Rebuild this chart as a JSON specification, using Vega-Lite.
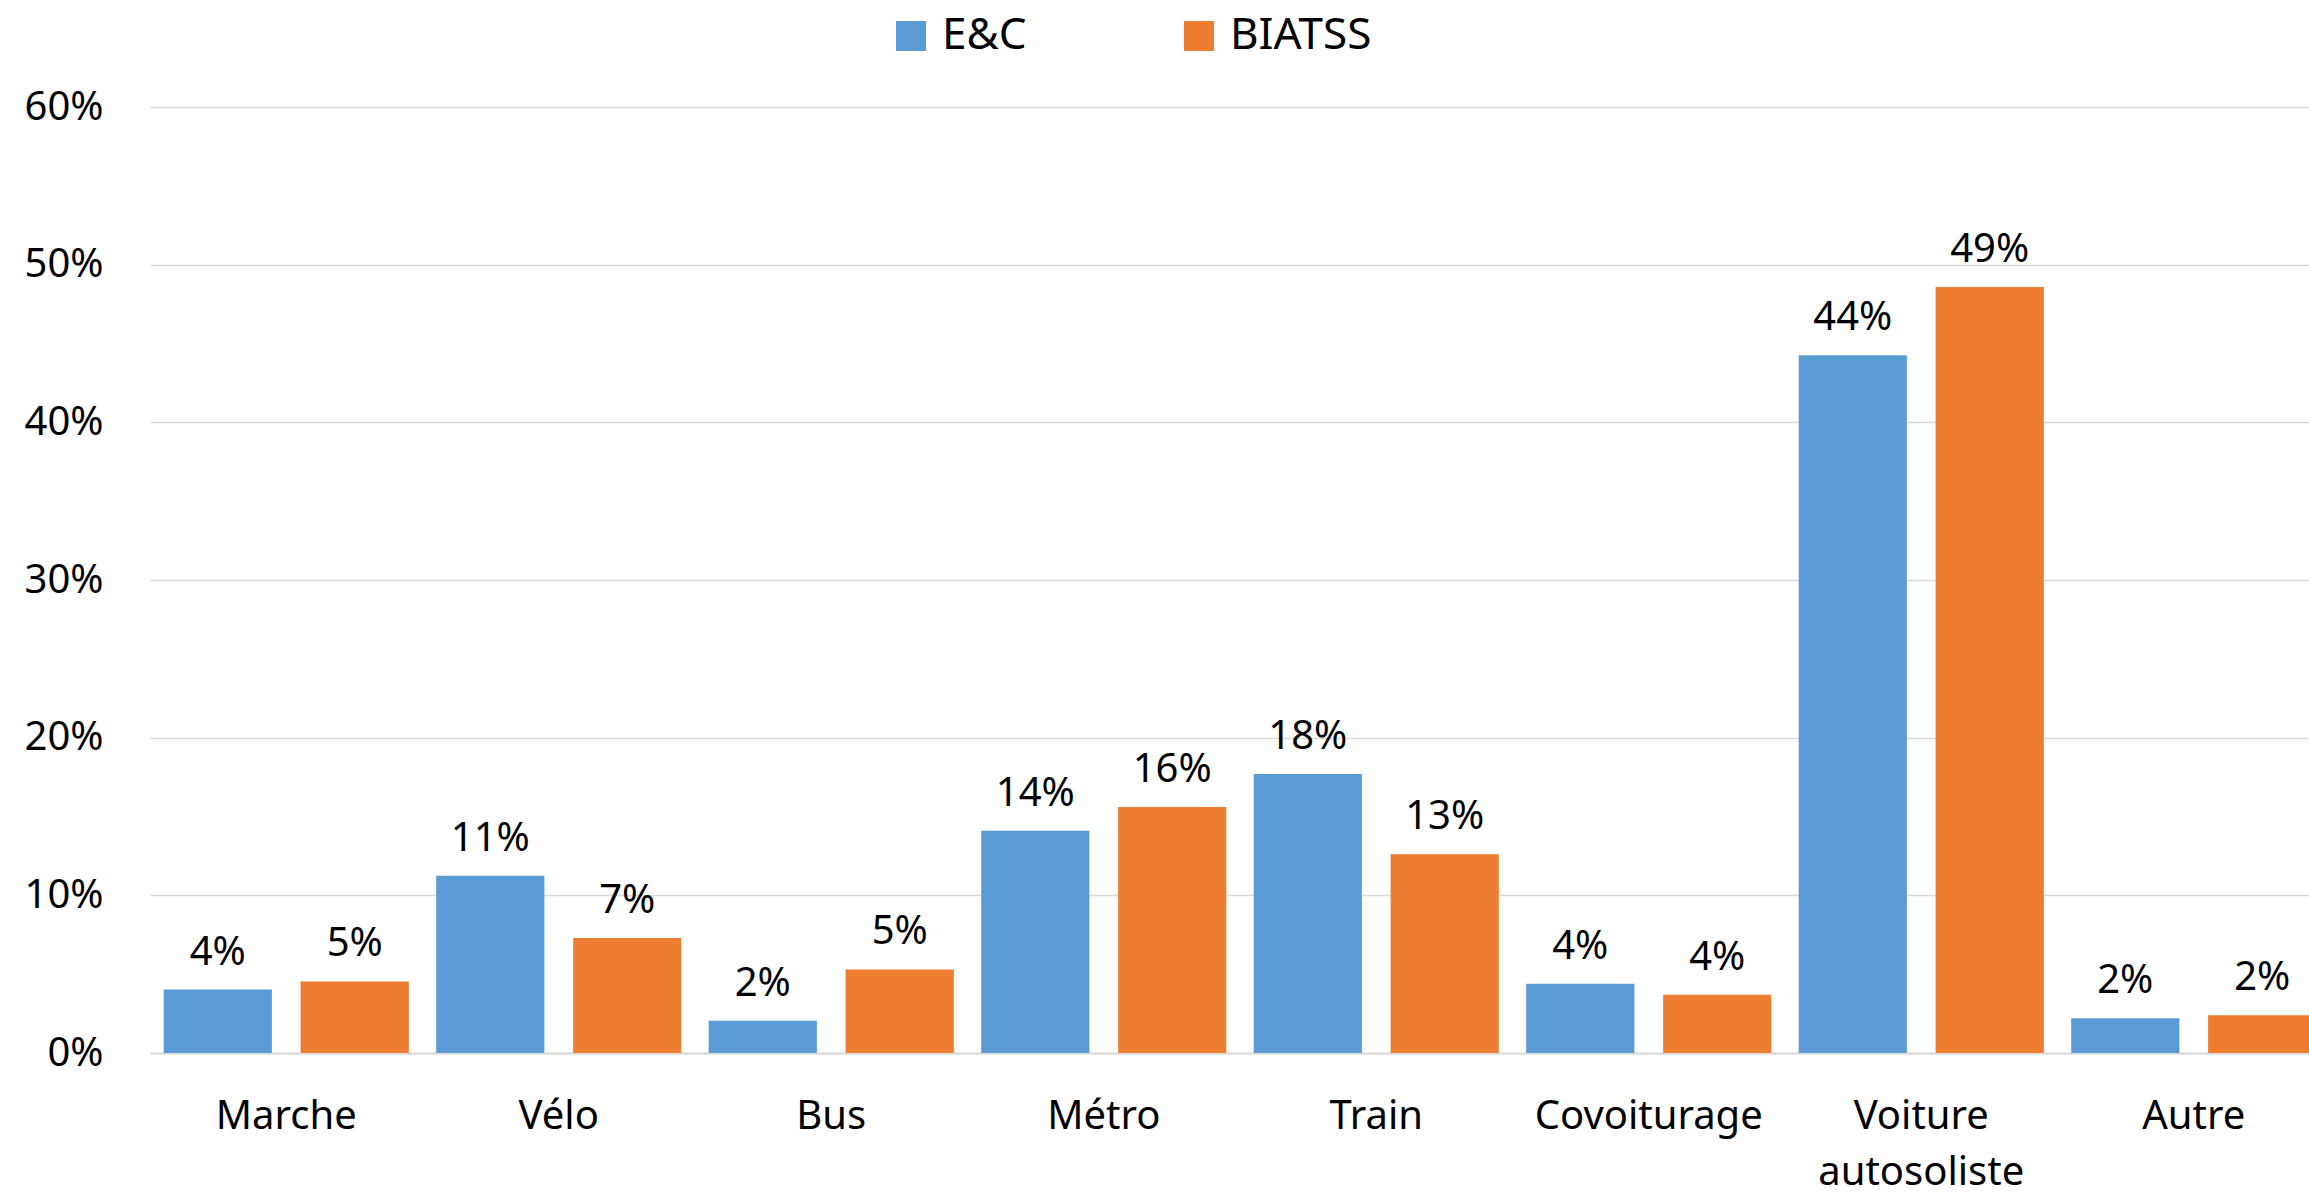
{
  "$schema": "https://vega.github.io/schema/vega-lite/v6.json",
  "width": 2180,
  "height": 946,
  "autosize": {"type": "none"},
  "padding": {"left": 150, "top": 107, "right": -21, "bottom": 142},
  "background": "white",
  "config": {"view": {"stroke": null}, "font": "Noto Sans"},
  "data": {
    "values": [
      {"mode": "Marche", "groupe": "E&C", "part": 0.0402},
      {"mode": "Marche", "groupe": "BIATSS", "part": 0.0454},
      {"mode": "Vélo", "groupe": "E&C", "part": 0.1125},
      {"mode": "Vélo", "groupe": "BIATSS", "part": 0.0729},
      {"mode": "Bus", "groupe": "E&C", "part": 0.0205},
      {"mode": "Bus", "groupe": "BIATSS", "part": 0.053},
      {"mode": "Métro", "groupe": "E&C", "part": 0.141},
      {"mode": "Métro", "groupe": "BIATSS", "part": 0.156},
      {"mode": "Train", "groupe": "E&C", "part": 0.177},
      {"mode": "Train", "groupe": "BIATSS", "part": 0.126},
      {"mode": "Covoiturage", "groupe": "E&C", "part": 0.044},
      {"mode": "Covoiturage", "groupe": "BIATSS", "part": 0.037},
      {"mode": "Voiture autosoliste", "groupe": "E&C", "part": 0.4426},
      {"mode": "Voiture autosoliste", "groupe": "BIATSS", "part": 0.4858},
      {"mode": "Autre", "groupe": "E&C", "part": 0.0221},
      {"mode": "Autre", "groupe": "BIATSS", "part": 0.0239}
    ]
  },
  "encoding": {
    "x": {
      "field": "mode",
      "type": "nominal",
      "sort": null,
      "scale": {"paddingInner": 0, "paddingOuter": 0},
      "axis": {
        "title": null,
        "labelAngle": 0,
        "ticks": false,
        "tickSize": 0,
        "domain": true,
        "domainColor": "#d9d9d9",
        "domainWidth": 2,
        "grid": false,
        "labelPadding": 75,
        "labelBaseline": "alphabetic",
        "labelFontSize": 40,
        "labelColor": "#000000",
        "labelExpr": "split(datum.label, ' ')",
        "labelLineHeight": 56,
        "labelLimit": 0,
        "labelOverlap": false
      }
    },
    "xOffset": {
      "field": "groupe",
      "type": "nominal",
      "sort": ["E&C", "BIATSS"],
      "scale": {"paddingInner": 0.21, "paddingOuter": 0.1}
    },
    "y": {
      "field": "part",
      "type": "quantitative",
      "scale": {"domain": [0, 0.6]},
      "axis": {
        "title": null,
        "values": [0, 0.1, 0.2, 0.3, 0.4, 0.5, 0.6],
        "format": ".0%",
        "ticks": false,
        "tickSize": 0,
        "domain": false,
        "grid": true,
        "gridColor": "#d9d9d9",
        "gridWidth": 1.5,
        "labelPadding": 47,
        "labelFontSize": 40,
        "labelColor": "#000000"
      }
    }
  },
  "layer": [
    {
      "mark": {"type": "bar"},
      "encoding": {
        "color": {
          "field": "groupe",
          "type": "nominal",
          "scale": {"domain": ["E&C", "BIATSS"], "range": ["#5B9BD5", "#ED7D31"]},
          "legend": {
            "title": null,
            "orient": "none",
            "legendX": 739,
            "legendY": -93,
            "direction": "horizontal",
            "symbolType": "square",
            "symbolSize": 900,
            "symbolStrokeWidth": 0,
            "labelFontSize": 44,
            "labelOffset": 9,
            "labelColor": "#000000",
            "labelLimit": 0,
            "columnPadding": 150,
            "padding": 0
          }
        }
      }
    },
    {
      "mark": {"type": "text", "dy": -25, "baseline": "alphabetic", "fontSize": 40, "color": "#000000"},
      "encoding": {"text": {"field": "part", "type": "quantitative", "format": ".0%"}}
    }
  ]
}
